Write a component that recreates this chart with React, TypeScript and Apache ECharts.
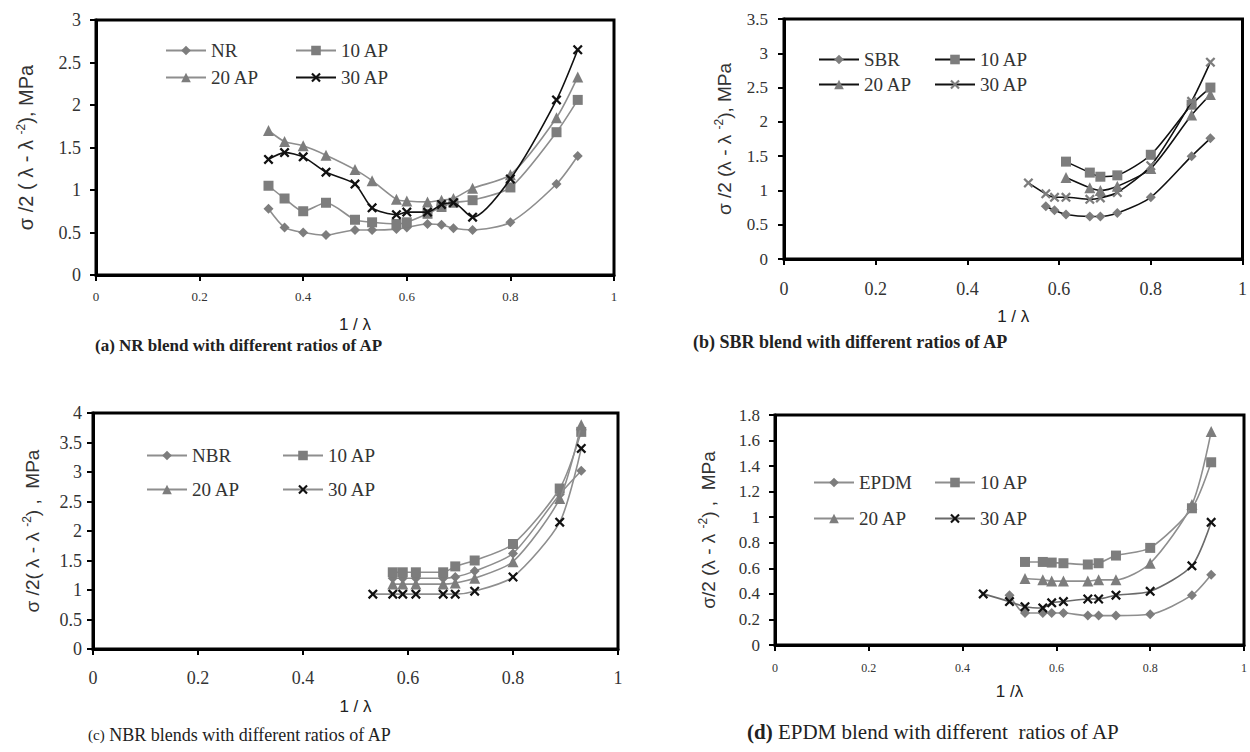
import React, { useEffect, useRef } from "react";
import * as echarts from "echarts";

// ---------- data ----------
// (a) NR
const aX = [0.333, 0.364, 0.4, 0.444, 0.5, 0.533, 0.58, 0.6, 0.64, 0.667, 0.69, 0.727, 0.8, 0.889, 0.93];
const aNR = [0.78, 0.56, 0.5, 0.47, 0.53, 0.53, 0.54, 0.56, 0.6, 0.59, 0.55, 0.53, 0.62, 1.07, 1.4];
const a10 = [1.05, 0.9, 0.75, 0.85, 0.65, 0.62, 0.6, 0.62, 0.72, 0.8, 0.85, 0.88, 1.03, 1.68, 2.06];
const a20 = [1.7, 1.57, 1.52, 1.41, 1.24, 1.11, 0.89, 0.87, 0.86, 0.88, 0.9, 1.02, 1.18, 1.85, 2.33];
const a30 = [1.36, 1.44, 1.39, 1.21, 1.07, 0.79, 0.71, 0.74, 0.74, 0.83, 0.85, 0.68, 1.13, 2.06, 2.65];
// (b) SBR
const bXSBR = [0.571, 0.59, 0.615, 0.667, 0.69, 0.727, 0.8, 0.889, 0.93];
const bSBR = [0.77, 0.71, 0.65, 0.62, 0.62, 0.67, 0.9, 1.5, 1.76];
const bXAP = [0.615, 0.667, 0.69, 0.727, 0.8, 0.889, 0.93];
const b10 = [1.42, 1.26, 1.2, 1.22, 1.52, 2.25, 2.5];
const b20 = [1.19, 1.04, 1.0, 1.06, 1.32, 2.1, 2.4];
const bX30 = [0.533, 0.571, 0.59, 0.615, 0.667, 0.69, 0.727, 0.8, 0.889, 0.93];
const b30 = [1.11, 0.95, 0.9, 0.9, 0.87, 0.89, 0.97, 1.36, 2.3, 2.87];
// (c) NBR
const cX = [0.571, 0.59, 0.615, 0.667, 0.69, 0.727, 0.8, 0.889, 0.93];
const cNBR = [1.2, 1.2, 1.2, 1.2, 1.22, 1.32, 1.62, 2.62, 3.02];
const c10 = [1.3, 1.3, 1.3, 1.3, 1.4, 1.5, 1.78, 2.72, 3.68];
const c20 = [1.1, 1.1, 1.1, 1.1, 1.12, 1.2, 1.48, 2.55, 3.8];
const cX30 = [0.533, 0.571, 0.59, 0.615, 0.667, 0.69, 0.727, 0.8, 0.889, 0.93];
const c30 = [0.93, 0.93, 0.93, 0.93, 0.93, 0.93, 0.98, 1.22, 2.15, 3.4];
// (d) EPDM
const dXEPDM = [0.5, 0.533, 0.571, 0.59, 0.615, 0.667, 0.69, 0.727, 0.8, 0.889, 0.93];
const dEPDM = [0.39, 0.25, 0.25, 0.25, 0.25, 0.23, 0.23, 0.23, 0.24, 0.39, 0.55];
const dXAP = [0.533, 0.571, 0.59, 0.615, 0.667, 0.69, 0.727, 0.8, 0.889, 0.93];
const d10 = [0.65, 0.65, 0.645, 0.64, 0.63, 0.64, 0.7, 0.76, 1.07, 1.43];
const d20 = [0.52, 0.51, 0.5, 0.5, 0.5, 0.51, 0.51, 0.64, 1.1, 1.67];
const dX30 = [0.444, 0.5, 0.533, 0.571, 0.59, 0.615, 0.667, 0.69, 0.727, 0.8, 0.889, 0.93];
const d30 = [0.4, 0.34, 0.3, 0.29, 0.33, 0.34, 0.36, 0.36, 0.39, 0.42, 0.62, 0.96];

const yMax = [3, 3.5, 4, 1.8];
const yStep = [0.5, 0.5, 0.5, 0.2];
const legendNames = [
  ["NR", "10 AP", "20 AP", "30 AP"],
  ["SBR", "10 AP", "20 AP", "30 AP"],
  ["NBR", "10 AP", "20 AP", "30 AP"],
  ["EPDM", "10 AP", "20 AP", "30 AP"],
];
const captions = [
  "(a) NR blend with different ratios of AP",
  "(b) SBR blend with different ratios of AP",
  "(c) NBR blends with different ratios of AP",
  "(d) EPDM blend with different  ratios of AP",
];

// ---------- styling ----------
const SERIF = "Liberation Serif";
const SANS = "Liberation Sans";
const GRAY_LINE = "#8e8e8e";
const GRAY_MARK = "#7d7d7d";
const BLACK = "#111111";
const CROSS =
  "path://M1.6,0L5,3.4L8.4,0L10,1.6L6.6,5L10,8.4L8.4,10L5,6.6L1.6,10L0,8.4L3.4,5L0,1.6Z";
const SYMBOLS = ["diamond", "rect", "triangle", CROSS];

const grids = [
  { left: 96, top: 20, width: 518, height: 255 },
  { left: 784, top: 19, width: 465, height: 240 },
  { left: 93, top: 413, width: 525, height: 236 },
  { left: 775, top: 415, width: 480, height: 230 },
];

const pairs = (xs: number[], ys: number[]) => ys.map((y, i) => [xs[i], y]);

const panelData = [
  [pairs(aX, aNR), pairs(aX, a10), pairs(aX, a20), pairs(aX, a30)],
  [pairs(bXSBR, bSBR), pairs(bXAP, b10), pairs(bXAP, b20), pairs(bX30, b30)],
  [pairs(cX, cNBR), pairs(cX, c10), pairs(cX, c20), pairs(cX30, c30)],
  [pairs(dXEPDM, dEPDM), pairs(dXAP, d10), pairs(dXAP, d20), pairs(dX30, d30)],
];

const lineColors = [
  [GRAY_LINE, GRAY_LINE, GRAY_LINE, BLACK],
  [BLACK, BLACK, BLACK, BLACK],
  [GRAY_LINE, GRAY_LINE, GRAY_LINE, GRAY_LINE],
  [GRAY_LINE, GRAY_LINE, GRAY_LINE, "#6a6a6a"],
];
const markColors = [
  [GRAY_MARK, GRAY_MARK, GRAY_MARK, BLACK],
  [GRAY_MARK, GRAY_MARK, GRAY_MARK, GRAY_MARK],
  [GRAY_MARK, GRAY_MARK, GRAY_MARK, BLACK],
  [GRAY_MARK, GRAY_MARK, GRAY_MARK, BLACK],
];

const yNames = [
  "{n|σ /2 ( λ - λ }{s|-2}{n|), MPa}",
  "{n|σ /2 (λ - λ }{s|-2}{n|), MPa}",
  "{n|σ /2( λ - λ }{s|-2}{n|) ,  MPa}",
  "{n|σ/2 (λ - λ }{s|-2}{n|) ,  MPa}",
];
const xNames = ["1 / λ", "1 / λ", "1 / λ", "1 /λ"];

const yNameSize = [20, 19, 19, 19];
const yLabelSize = [18, 17, 18, 17];
const xLabelSize = [13, 18, 18, 12];
const yLabelMargin = [15, 16, 11, 15];
const xLabelMargin = [15, 21, 20, 17];
const yNameGap = [59, 49, 50, 56];
const xNameGap = [41, 49, 49, 38];

// legend layout: [col1 left, col2 left, row1 top, row2 top]
const legendPos = [
  [165, 295, 41, 68],
  [818, 934, 50, 75],
  [146, 282, 446, 480],
  [813, 934, 473, 509],
];

const capPos = [
  [95, 337],
  [693, 333],
  [88, 726],
  [747, 721],
];
const capSize = [17, 18, 18, 21];

function buildOption() {
  const xAxis: any[] = [];
  const yAxis: any[] = [];
  const series: any[] = [];
  const legend: any[] = [];
  const title: any[] = [];

  grids.forEach((g, p) => {
    xAxis.push({
      type: "value",
      gridIndex: p,
      min: 0,
      max: 1,
      interval: 0.2,
      name: xNames[p],
      nameLocation: "middle",
      nameGap: xNameGap[p],
      nameTextStyle: { fontFamily: SANS, fontSize: 17, color: "#222" },
      axisLine: { show: true, onZero: false, lineStyle: { color: "#000", width: 3 } },
      axisTick: { show: true, inside: false, length: 6, lineStyle: { color: "#000", width: 2 } },
      axisLabel: {
        fontFamily: SERIF,
        fontSize: xLabelSize[p],
        color: "#333",
        margin: xLabelMargin[p],
      },
      splitLine: { show: false },
    });
    yAxis.push({
      type: "value",
      gridIndex: p,
      min: 0,
      max: yMax[p],
      interval: yStep[p],
      name: yNames[p],
      nameLocation: "middle",
      nameRotate: 90,
      nameGap: yNameGap[p],
      nameTextStyle: {
        color: "#333",
        rich: {
          n: { fontFamily: SANS, fontSize: yNameSize[p], color: "#333", lineHeight: 22 },
          s: { fontFamily: SANS, fontSize: 12, color: "#333", verticalAlign: "top", lineHeight: 22 },
        },
      },
      axisLine: { show: true, onZero: false, lineStyle: { color: "#000", width: 3 } },
      axisTick: { show: true, inside: false, length: 6, lineStyle: { color: "#000", width: 2 } },
      axisLabel: {
        fontFamily: SERIF,
        fontSize: yLabelSize[p],
        color: "#333",
        margin: yLabelMargin[p],
      },
      splitLine: { show: false },
    });

    panelData[p].forEach((data, s) => {
      const id = `${"abcd"[p]}:${legendNames[p][s]}`;
      series.push({
        type: "line",
        name: id,
        xAxisIndex: p,
        yAxisIndex: p,
        data,
        smooth: 0.25,
        symbol: SYMBOLS[s],
        symbolSize: s === 2 ? 11 : 10,
        lineStyle: { color: lineColors[p][s], width: 1.6 },
        itemStyle: { color: markColors[p][s] },
        z: 3 + s,
      });
      const lp = legendPos[p];
      legend.push({
        data: [id],
        left: s % 2 === 0 ? lp[0] : lp[1],
        top: s < 2 ? lp[2] : lp[3],
        padding: 0,
        itemWidth: 40,
        itemHeight: 12,
        selectedMode: false,
        formatter: (n: string) => n.split(":")[1],
        textStyle: { fontFamily: SERIF, fontSize: 19, color: "#333" },
      });
    });
  });

  captions.forEach((c, i) => {
    const head = c.slice(0, 3);
    const rest = c.slice(3);
    title.push({
      text: `{h${i}|${head}}{r${i}|${rest}}`,
      left: capPos[i][0],
      top: capPos[i][1],
      padding: 0,
      textStyle: {
        rich: {
          [`h${i}`]: {
            fontFamily: SERIF,
            fontWeight: i === 2 ? "normal" : "bold",
            fontSize: i === 2 ? capSize[i] - 3 : capSize[i],
            color: "#222",
          },
          [`r${i}`]: {
            fontFamily: SERIF,
            fontWeight: i < 2 ? "bold" : "normal",
            fontSize: capSize[i],
            color: "#222",
          },
        },
      },
    });
  });

  return {
    animation: false,
    backgroundColor: "#ffffff",
    grid: grids.map((g) => ({
      ...g,
      show: true,
      borderColor: "#000",
      borderWidth: 3,
      backgroundColor: "transparent",
      containLabel: false,
    })),
    xAxis,
    yAxis,
    series,
    legend,
    title,
  };
}

export default function App() {
  const ref = useRef<HTMLDivElement>(null);
  useEffect(() => {
    if (!ref.current) return;
    const chart = echarts.init(ref.current, undefined, { renderer: "svg" });
    chart.setOption(buildOption() as any);
    return () => chart.dispose();
  }, []);
  return (
    <div
      ref={ref}
      style={{ position: "absolute", left: 0, top: 0, width: 1250, height: 752, background: "#fff" }}
    />
  );
}
